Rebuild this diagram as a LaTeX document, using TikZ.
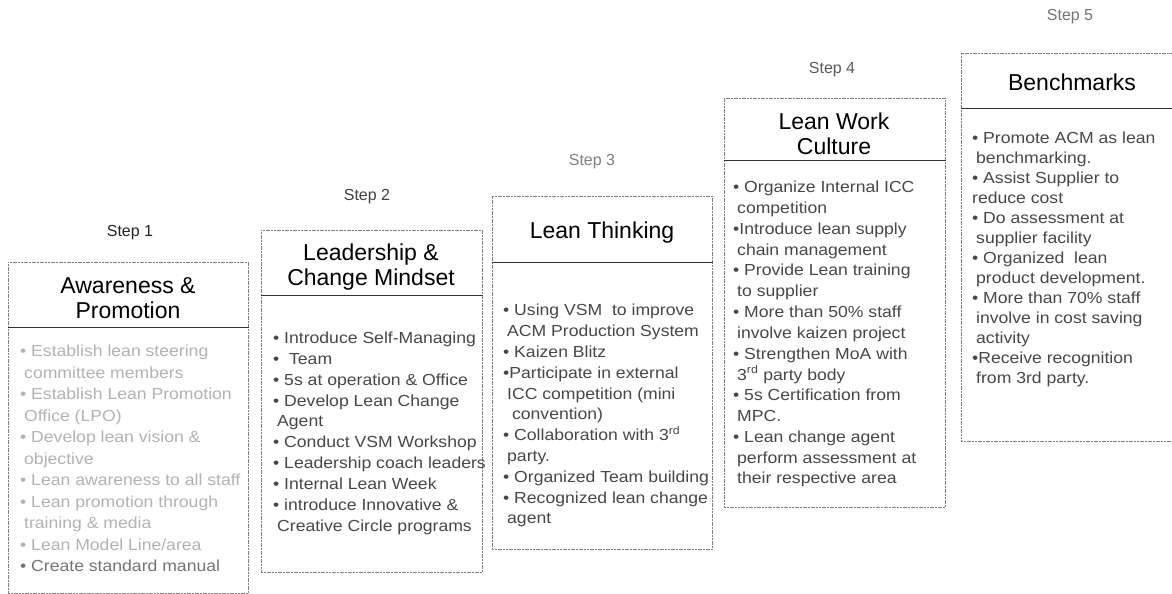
\documentclass[tikz,border=0pt]{standalone}
\usepackage{fontspec}
\setmainfont{Liberation Sans}
\newfontfamily\bodyfont{Liberation Sans}[FakeStretch=1.1]
\newcommand{\ind}{\hspace*{4pt}}
\begin{document}
\begin{tikzpicture}[x=1pt,y=-1pt,
  stepbox/.style={rectangle, draw=black!50, line width=0.6pt, dash pattern=on 2pt off 0.7pt, anchor=north west, inner sep=0pt},
  divider/.style={draw=black!80, line width=0.9pt},
  titletext/.style={font=\fontsize{23}{25}\selectfont, align=center, text=black, inner sep=0pt},
  steplabel/.style={font=\fontsize{16}{18}\selectfont, inner sep=0pt},
  bodytext/.style={anchor=north west, align=left, inner sep=0pt, font=\bodyfont\fontsize{16}{20.8}\selectfont, text=black!72},
]
\useasboundingbox (0,0) rectangle (1172,594);

% ---------- Step 1 ----------
\node[steplabel, text=black!85] (s1) at (130,233) {Step 1};
\node[stepbox, minimum width=240pt, minimum height=331pt] (b1) at (8,262) {};
\coordinate (d1) at (0,327);
\draw[divider] (b1.west |- d1) -- (b1.east |- d1);
\node[titletext] (t1) at (128,298) {Awareness \&\\Promotion};
\node[bodytext, text=black!30, font=\bodyfont\fontsize{16}{21.5}\selectfont] (l1) at (20,345) {%
• Establish lean steering\\
\ind committee members\\
• Establish Lean Promotion\\
\ind Office (LPO)\\
• Develop lean vision \&\\
\ind objective\\
• Lean awareness to all staff\\
• Lean promotion through\\
\ind training \& media\\
• Lean Model Line/area\\
\textcolor{black!55}{• Create standard manual}};

% ---------- Step 2 ----------
\node[steplabel, text=black!75] (s2) at (367,197) {Step 2};
\node[stepbox, minimum width=221pt, minimum height=342pt] (b2) at (261,230) {};
\coordinate (d2) at (0,295);
\draw[divider] (b2.west |- d2) -- (b2.east |- d2);
\node[titletext] (t2) at (371,267) {Leadership \&\\Change Mindset};
\node[bodytext] (l2) at (273,332) {%
• Introduce Self-Managing\\
•\ \ Team\\
• 5s at operation \& Office\\
• Develop Lean Change\\
\ind Agent\\
• Conduct VSM Workshop\\
• Leadership coach leaders\\
• Internal Lean Week\\
• introduce Innovative \&\\
\ind Creative Circle programs};

% ---------- Step 3 ----------
\node[steplabel, text=black!50] (s3) at (592,162) {Step 3};
\node[stepbox, minimum width=220pt, minimum height=353pt] (b3) at (492,196) {};
\coordinate (d3) at (0,262);
\draw[divider] (b3.west |- d3) -- (b3.east |- d3);
\node[titletext, anchor=base] (t3) at (602,238) {Lean Thinking};
\node[bodytext] (l3) at (503,304) {%
• Using VSM\ \ to improve\\
\ind ACM Production System\\
• Kaizen Blitz\\
•Participate in external\\
\ind ICC competition (mini\\
\ind\ convention)\\
• Collaboration with 3\textsuperscript{rd}\\
\ind party.\\
• Organized Team building\\
• Recognized lean change\\
\ind agent};

% ---------- Step 4 ----------
\node[steplabel, text=black!65] (s4) at (832,70) {Step 4};
\node[stepbox, minimum width=221pt, minimum height=409pt] (b4) at (724,98) {};
\coordinate (d4) at (0,160);
\draw[divider] (b4.west |- d4) -- (b4.east |- d4);
\node[titletext] (t4) at (834,134) {Lean Work\\Culture};
\node[bodytext] (l4) at (733,181) {%
• Organize Internal ICC\\
\ind competition\\
•Introduce lean supply\\
\ind chain management\\
• Provide Lean training\\
\ind to supplier\\
• More than 50\% staff\\
\ind involve kaizen project\\
• Strengthen MoA with\\
\ind 3\textsuperscript{rd} party body\\
• 5s Certification from\\
\ind MPC.\\
• Lean change agent\\
\ind perform assessment at\\
\ind their respective area};

% ---------- Step 5 ----------
\node[steplabel, text=black!55] (s5) at (1070,17) {Step 5};
\node[stepbox, minimum width=215pt, minimum height=388pt] (b5) at (961,53) {};
\coordinate (d5) at (0,108);
\draw[divider] (b5.west |- d5) -- (b5.east |- d5);
\node[titletext, anchor=base] (t5) at (1072,90) {Benchmarks};
\node[bodytext, font=\bodyfont\fontsize{16}{20}\selectfont] (l5) at (972,132) {%
• Promote ACM as lean\\
\ind benchmarking.\\
• Assist Supplier to\\
reduce cost\\
• Do assessment at\\
\ind supplier facility\\
• Organized\ \ lean\\
\ind product development.\\
• More than 70\% staff\\
\ind involve in cost saving\\
\ind activity\\
•Receive recognition\\
\ind from 3rd party.};
\end{tikzpicture}
\end{document}
